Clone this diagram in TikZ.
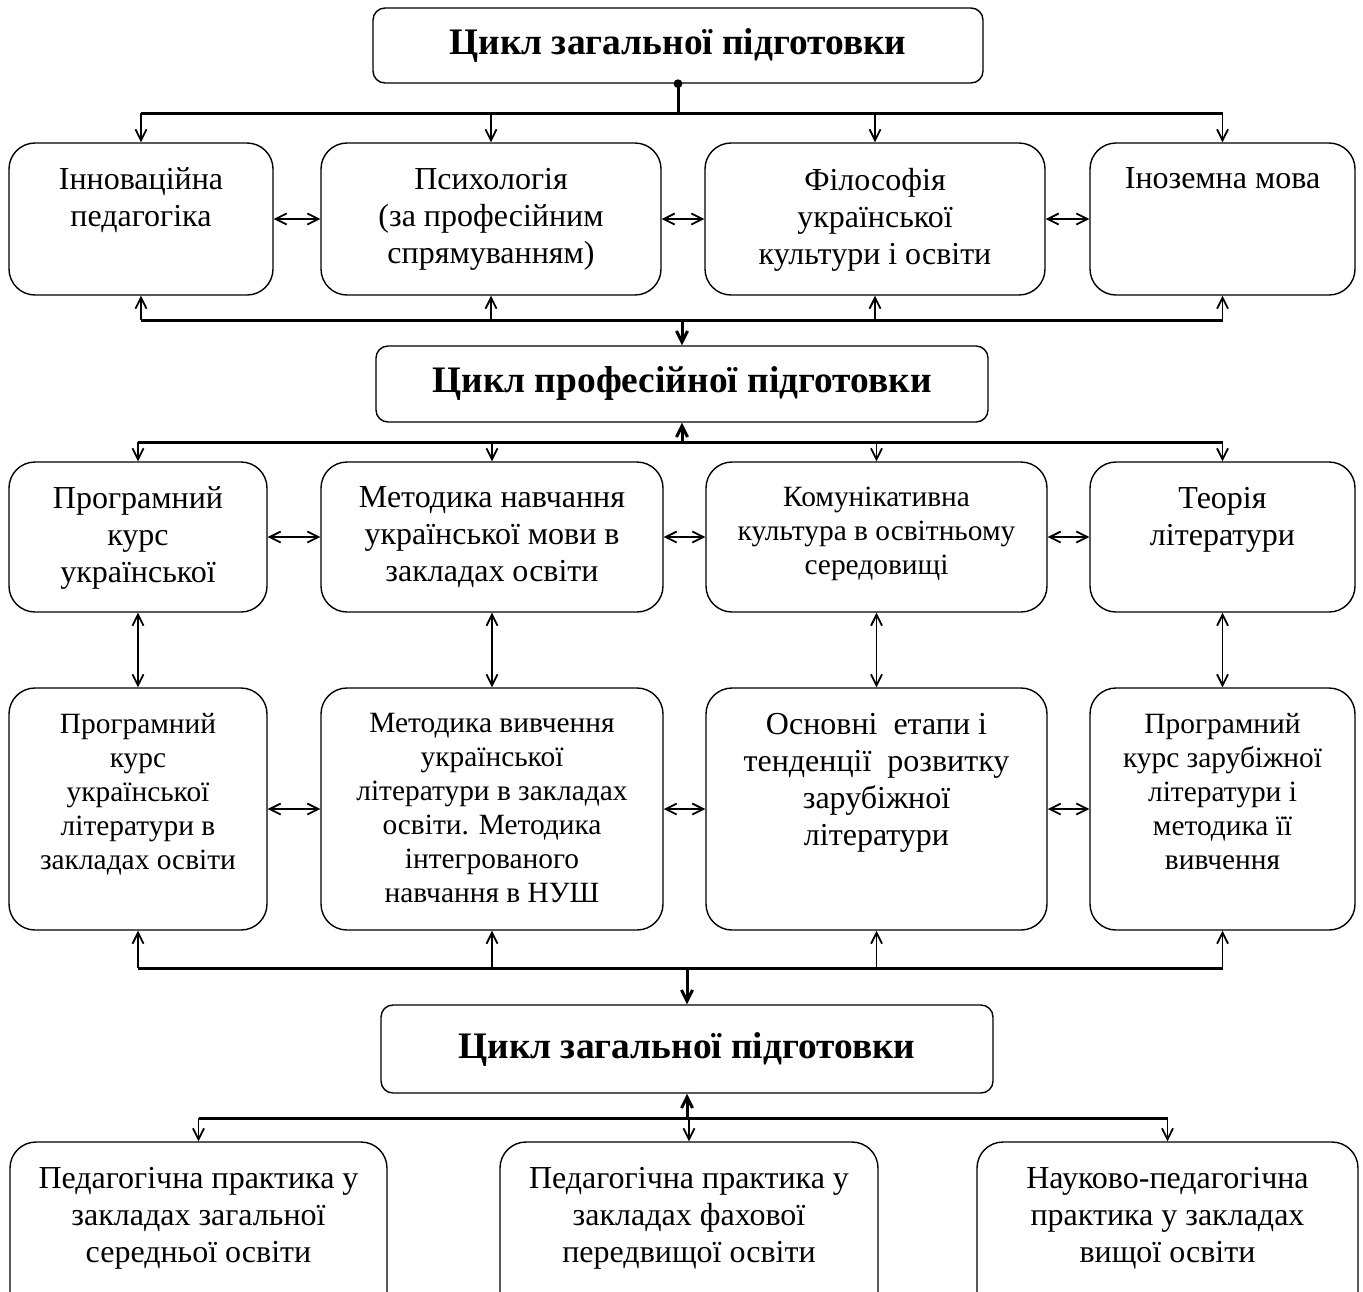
\documentclass[tikz,border=0pt]{standalone}
\usepackage{fontspec}
\setmainfont{Liberation Serif}
\usetikzlibrary{arrows.meta}
\newcommand{\cell}[3]{\parbox[c][#1][t]{#2}{\centering\vspace*{12.5pt}#3}}
\newcommand{\bigtxt}{\fontsize{16}{18.5}\selectfont}
\newcommand{\smalltxt}{\fontsize{14.7}{17}\selectfont}
\begin{document}
\begin{tikzpicture}[x=0.5pt, y=-0.5pt, >={Straight Barb[length=5.5pt,width=5.5pt]},
                    title/.style={draw, rounded corners=6pt, inner sep=0pt, line width=0.7pt, font=\fontsize{18.7}{22}\selectfont\bfseries},
                    disc/.style={draw, rounded corners=13pt, inner sep=0pt, line width=0.7pt},
                    bus/.style={line width=1.5pt},
                    br/.style={line width=0.9pt}]
    \useasboundingbox (0,0) rectangle (1363,1291);
    % cycles
    \node[title, minimum width=305pt, minimum height=37.5pt] (T1) at (678,45.5) {Цикл загальної підготовки};
    \node[title, minimum width=306pt, minimum height=38pt] (T2) at (682,384) {Цикл професійної підготовки};
    \node[title, minimum width=306pt, minimum height=44pt] (T3) at (687,1049) {Цикл загальної підготовки};
    % row 1
    \node[disc] (A1) at (141,219) {\cell{76pt}{132pt}{\bigtxt Інноваційна\\педагогіка}};
    \node[disc] (A2) at (491,219) {\cell{76pt}{170pt}{\bigtxt Психологія\\(за професійним\\спрямуванням)}};
    \node[disc] (A3) at (875,219) {\cell{76pt}{170pt}{\bigtxt Філософія\\української\\культури і освіти}};
    \node[disc] (A4) at (1222.5,219) {\cell{76pt}{132.5pt}{\bigtxt Іноземна мова}};
    % row 2
    \node[disc] (B1) at (138,537) {\cell{75pt}{129pt}{\bigtxt Програмний\\курс\\української}};
    \node[disc] (B2) at (492,537) {\cell{75pt}{171pt}{\bigtxt Методика навчання\\української мови в\\закладах освіти}};
    \node[disc] (B3) at (876.5,537) {\cell{75pt}{170.5pt}{\smalltxt Комунікативна\\культура в освітньому\\середовищі}};
    \node[disc] (B4) at (1222.5,537) {\cell{75pt}{132.5pt}{\bigtxt Теорія\\літератури}};
    % row 3
    \node[disc] (C1) at (138,809) {\cell{121pt}{129pt}{\smalltxt Програмний\\курс\\української\\літератури в\\закладах освіти}};
    \node[disc] (C2) at (492,809) {\cell{121pt}{171pt}{\smalltxt Методика вивчення\\української\\літератури в закладах\\освіти. Методика\\інтегрованого\\навчання в НУШ}};
    \node[disc] (C3) at (876.5,809) {\cell{121pt}{170.5pt}{\bigtxt Основні\ \ етапи і\\тенденції\ \ розвитку\\зарубіжної\\літератури}};
    \node[disc] (C4) at (1222.5,809) {\cell{121pt}{132.5pt}{\smalltxt Програмний\\курс зарубіжної\\літератури і\\методика її\\вивчення}};
    % practice
    \node[disc] (D1) at (198.5,1231) {\cell{89pt}{188.5pt}{\bigtxt Педагогічна практика у\\закладах загальної\\середньої освіти}};
    \node[disc] (D2) at (689,1231) {\cell{89pt}{189pt}{\bigtxt Педагогічна практика у\\закладах фахової\\передвищої освіти}};
    \node[disc] (D3) at (1167.5,1231) {\cell{89pt}{190.5pt}{\bigtxt Науково-педагогічна\\практика у закладах\\вищої освіти}};

    \coordinate (b1) at (0,113);
    \coordinate (b2) at (0,320);
    \coordinate (b3) at (0,442);
    \coordinate (b4) at (0,968);
    \coordinate (b5) at (0,1118);

    % first cycle
    \fill (T1.south) circle[radius=2.2pt];
    \draw[bus] (T1.south) -- (T1.south |- b1);
    \draw[bus] (A1.north |- b1) -- (A4.north |- b1);
    \draw[bus] (A1.south |- b2) -- (A4.south |- b2);
    \foreach \n in {A1,A2,A3,A4} {
        \draw[br,->] (\n.north |- b1) -- (\n.north);
        \draw[br,->] (\n.south |- b2) -- (\n.south);
    }
    \draw[br,<->] (A1.east) -- (A2.west);
    \draw[br,<->] (A2.east) -- (A3.west);
    \draw[br,<->] (A3.east) -- (A4.west);
    \draw[bus,->] (T2.north |- b2) -- (T2.north);

    % professional cycle
    \draw[bus,->] (T2.south |- b3) -- (T2.south);
    \draw[bus] (B1.north |- b3) -- (B4.north |- b3);
    \draw[bus] (C1.south |- b4) -- (C4.south |- b4);
    \foreach \n/\m in {B1/C1,B2/C2,B3/C3,B4/C4} {
        \draw[br,->] (\n.north |- b3) -- (\n.north);
        \draw[br,<->] (\n.south) -- (\m.north);
        \draw[br,->] (\m.south |- b4) -- (\m.south);
    }
    \draw[br,<->] (B1.east) -- (B2.west);
    \draw[br,<->] (B2.east) -- (B3.west);
    \draw[br,<->] (B3.east) -- (B4.west);
    \draw[br,<->] (C1.east) -- (C2.west);
    \draw[br,<->] (C2.east) -- (C3.west);
    \draw[br,<->] (C3.east) -- (C4.west);
    \draw[bus,->] (T3.north |- b4) -- (T3.north);

    % practice
    \draw[bus,->] (T3.south |- b5) -- (T3.south);
    \draw[bus] (D1.north |- b5) -- (D3.north |- b5);
    \foreach \n in {D1,D2,D3}
        \draw[br,->] (\n.north |- b5) -- (\n.north);
\end{tikzpicture}
\end{document}
